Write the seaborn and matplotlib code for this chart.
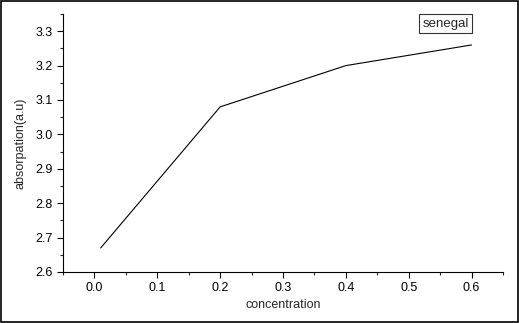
import matplotlib
matplotlib.use("Agg")
import matplotlib.pyplot as plt
import seaborn as sns
import pandas as pd
from matplotlib.ticker import MultipleLocator

concentration = [0.01, 0.2, 0.4, 0.6]
absorption = [2.67, 3.08, 3.20, 3.26]
series_name = "senegal"

df = pd.DataFrame({"concentration": concentration, "absorption": absorption})

sns.set_style("ticks")
plt.rcParams['font.family'] = ['Liberation Sans', 'DejaVu Sans']

fig = plt.figure(figsize=(5.19, 3.23), dpi=100)
ax = fig.add_axes([63/519, 51/323, 440/519, 258/323])

sns.lineplot(data=df, x="concentration", y="absorption", ax=ax, color="black",
             linewidth=0.8, label=series_name)

ax.set_xlim(-0.05, 0.65)
ax.set_ylim(2.6, 3.35)
ax.xaxis.set_minor_locator(MultipleLocator(0.05))
ax.yaxis.set_minor_locator(MultipleLocator(0.05))
ax.set_xticks([0.0, 0.1, 0.2, 0.3, 0.4, 0.5, 0.6])
ax.set_xticklabels(["0.0", "0.1", "0.2", "0.3", "0.4", "0.5", "0.6"])
ax.set_yticks([2.6, 2.7, 2.8, 2.9, 3.0, 3.1, 3.2, 3.3])
ax.set_yticklabels(["2.6", "2.7", "2.8", "2.9", "3.0", "3.1", "3.2", "3.3"])
ax.tick_params(which="major", direction="out", length=4, width=0.8, labelsize=9, colors="black")
ax.tick_params(which="minor", direction="out", length=2.5, width=0.8)
for s in ["top", "right"]:
    ax.spines[s].set_visible(False)
for s in ["left", "bottom"]:
    ax.spines[s].set_linewidth(0.8)
    ax.spines[s].set_color("black")

ax.set_xlabel("concentration", fontsize=9, labelpad=3)
ax.set_ylabel("absorpation(a.u)", fontsize=9, labelpad=6)

leg = ax.legend(loc="upper right", bbox_to_anchor=(0.93, 1.0), handlelength=0,
                handletextpad=0, fancybox=False, frameon=True, fontsize=9.5,
                borderpad=0.25, borderaxespad=0)
leg.get_frame().set_edgecolor("black")
leg.get_frame().set_linewidth(0.8)
for h in leg.legend_handles:
    h.set_visible(False)

border = plt.Rectangle((0.002, 0.003), 0.996, 0.994, transform=fig.transFigure,
                       fill=False, edgecolor="black", linewidth=1.2)
fig.patches.append(border)

fig.savefig("out.png", dpi=100)
